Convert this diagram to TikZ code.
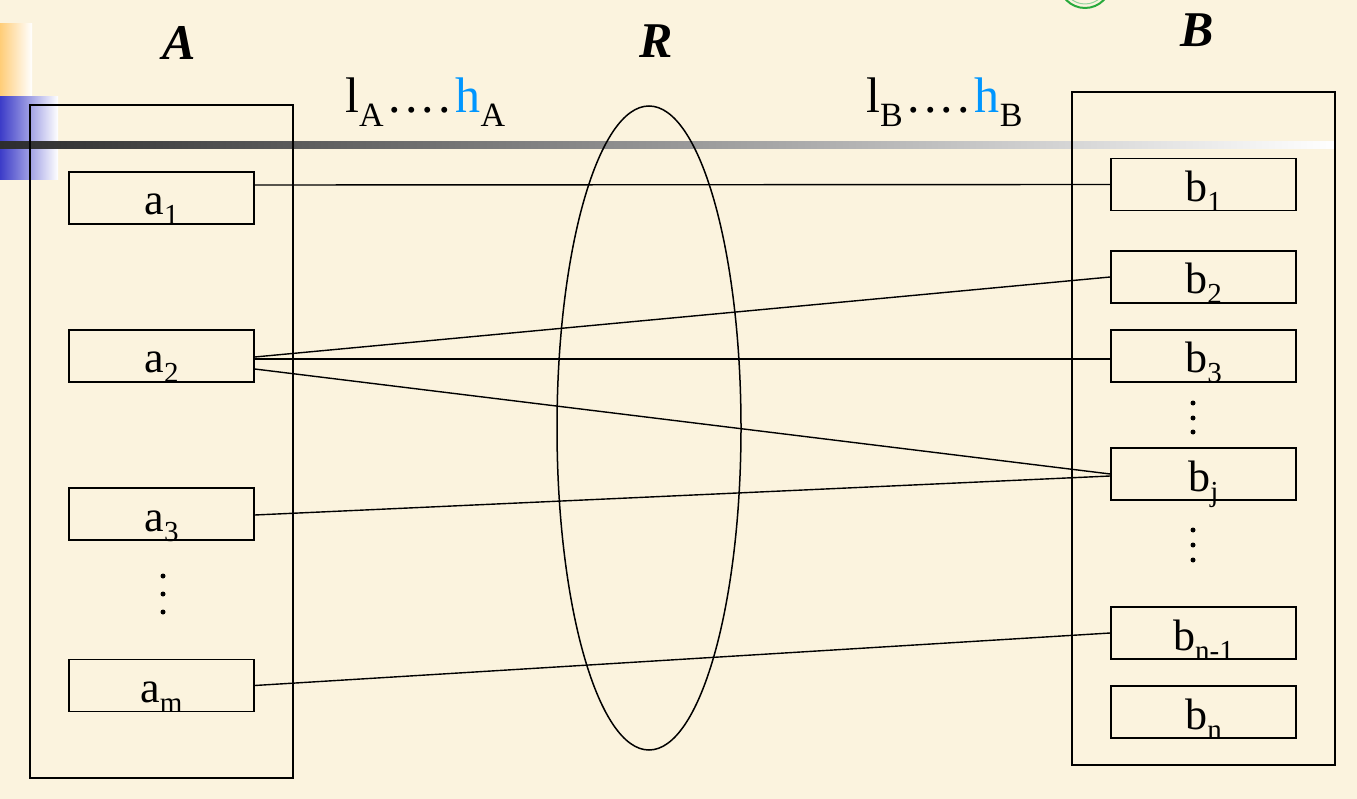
\documentclass[tikz,border=0pt]{standalone}
\usepackage{fontspec}
\setmainfont{Liberation Serif}
\usetikzlibrary{shapes.geometric}
\definecolor{bg}{RGB}{251,243,222}
\definecolor{hblue}{RGB}{0,150,255}
\definecolor{sqblue}{RGB}{60,60,200}
\definecolor{sqorange}{RGB}{255,205,120}
\definecolor{bardark}{RGB}{45,45,45}
\definecolor{ringgreen}{RGB}{40,170,60}
\newcommand\mysub[1]{\raisebox{-10pt}{\fontsize{29}{30}\selectfont #1}}
\newcommand\mysubB[1]{\raisebox{-14pt}{\fontsize{34}{35}\selectfont #1}}
\newcommand\mydots{\kern5pt.\kern4pt.\kern4pt.\kern4pt.\kern5pt}
\tikzset{
  outerbox/.style={draw=black, line width=1.5pt, minimum width=263pt, minimum height=673pt, inner sep=0pt},
  elembox/.style={draw=black, line width=1.5pt, minimum width=185pt, minimum height=52pt, inner sep=0pt,
     font=\fontsize{44}{48}\selectfont, text height=34pt, text depth=0pt},
  setlabel/.style={font=\fontsize{50}{54}\selectfont\bfseries\itshape, anchor=base, inner sep=0pt},
  rangelabel/.style={font=\fontsize{50}{54}\selectfont, anchor=base west, inner sep=0pt},
  link/.style={line width=1.4pt, black},
  vdot/.style={circle, fill=black, inner sep=0pt, minimum size=5pt}
}
\begin{document}
\begin{tikzpicture}[x=1pt,y=-1pt]
\useasboundingbox (0,0) rectangle (1357,799);
\fill[bg] (0,0) rectangle (1357,799);
% decorations
\shade[left color=sqorange, right color=white] (0,24) rectangle (32,97);
\shade[left color=sqblue, right color=white] (0,97) rectangle (58,180);
\shade[left color=bardark, right color=white] (0,142) rectangle (1335,149);
\draw[ringgreen, line width=2pt] (1085,-18) circle (26);
\draw[ringgreen!50, line width=1pt] (1085,-18) circle (22);
% outer sets
\node[outerbox] (boxA) at (161.5,441.5) {};
\node[outerbox] (boxB) at (1203.5,428.5) {};
\node[draw=black, line width=1.5pt, ellipse, minimum width=184pt, minimum height=644pt, inner sep=0pt] (R) at (649,428) {};
% labels
\node[setlabel] (lA) at (179,60) {A};
\node[setlabel] (lR) at (656,58) {R};
\node[setlabel] (lB) at (1197,47) {B};
\node[rangelabel] (rA) at (345,113) {l\mysubB{A}\mydots\textcolor{hblue}{h}\mysubB{A}};
\node[rangelabel] (rB) at (866,113) {l\mysubB{B}\mydots\textcolor{hblue}{h}\mysubB{B}};
% elements of A
\node[elembox] (a1) at (161.5,198) {a\mysub{1}};
\node[elembox] (a2) at (161.5,356) {a\mysub{2}};
\node[elembox] (a3) at (161.5,514) {a\mysub{3}};
\node[elembox] (am) at (161.5,685.5) {a\mysub{m}};
% elements of B
\node[elembox] (b1) at (1203.5,184.5) {b\mysub{1}};
\node[elembox] (b2) at (1203.5,277) {b\mysub{2}};
\node[elembox] (b3) at (1203.5,356) {b\mysub{3}};
\node[elembox] (bj) at (1203.5,474) {b\mysub{j}};
\node[elembox] (bn1) at (1203.5,633) {b\mysub{n-1}};
\node[elembox] (bn) at (1203.5,712) {b\mysub{n}};
% vertical dots
\node[vdot] (da1) at (163,576) {};
\node[vdot] (da2) at (163,594) {};
\node[vdot] (da3) at (163,612) {};
\node[vdot] (db1) at (1193,403) {};
\node[vdot] (db2) at (1193,418) {};
\node[vdot] (db3) at (1193,432) {};
\node[vdot] (db4) at (1193,530) {};
\node[vdot] (db5) at (1193,545) {};
\node[vdot] (db6) at (1193,560) {};
% links
\draw[link] ([yshift=13pt]a1.east) -- (b1.west);
\draw[link] ([yshift=-1pt]a2.east) -- (b2.west);
\draw[link] ([yshift=-3pt]a2.east) -- ([yshift=-3pt]b3.west);
\draw[link] ([yshift=-13pt]a2.east) -- (bj.west);
\draw[link] ([yshift=-1pt]a3.east) -- ([yshift=-2pt]bj.west);
\draw[link] (am.east) -- (bn1.west);
\end{tikzpicture}
\end{document}
